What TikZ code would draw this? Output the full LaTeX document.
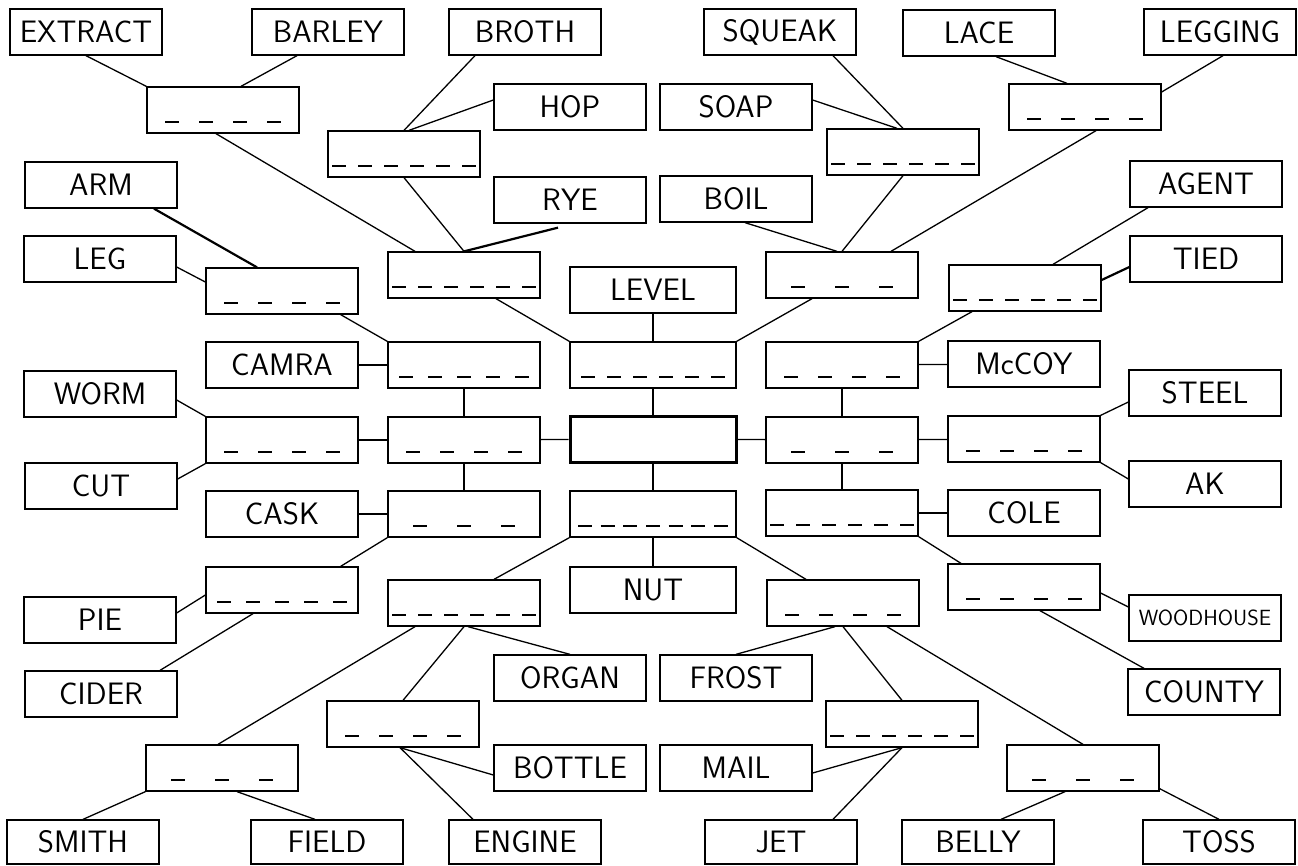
\documentclass[tikz,border=0pt]{standalone}
\usepackage{fontspec}
\usetikzlibrary{calc}

\begin{document}
\begin{tikzpicture}[
  x=1pt, y=-1pt,
  line width=1.3pt,
  font=\sffamily\fontsize{31}{33}\selectfont,
  box/.style={draw,minimum width=152pt,minimum height=46pt,inner sep=2pt},
  clue/.style={box},
  wide/.style={minimum width=166pt},
  blank/.style={box,path picture={
    \pgfmathsetmacro\dspan{min(150,60+14*#1)}
    \pgfmathsetmacro\dpitch{(\dspan-14)/(#1-1)}
    \foreach \k [evaluate=\k as \dx using {-\dspan/2+(\k-1)*\dpitch}] in {1,...,#1}
      \draw[line width=1.6pt] ([xshift=\dx pt,yshift=-12pt]path picture bounding box.center) -- ++(14,0);
  }},
  hub/.style={box,wide,line width=3pt},
  heavy/.style={line width=2.2pt}
]
  \useasboundingbox (0,0) rectangle (1298,865);

  % Clue words, top to bottom
  \node[clue] (extract) at (86,32) {EXTRACT};
  \node[clue] (barley) at (328,32) {BARLEY};
  \node[clue] (broth) at (525,32) {BROTH};
  \node[clue] (squeak) at (780,32) {SQUEAK};
  \node[clue] (lace) at (979,33) {LACE};
  \node[clue] (legging) at (1220,32) {LEGGING};
  \node[clue] (hop) at (570,107) {HOP};
  \node[clue] (soap) at (736,107) {SOAP};
  \node[clue] (rye) at (570,200) {RYE};
  \node[clue] (boil) at (736,199) {BOIL};
  \node[clue] (agent) at (1206,184) {AGENT};
  \node[clue] (tied) at (1206,259) {TIED};
  \node[clue] (arm) at (101,185) {ARM};
  \node[clue] (leg) at (100,259) {LEG};
  \node[clue,wide] (level) at (653,290) {LEVEL};
  \node[clue] (camra) at (282,365) {CAMRA};
  \node[clue] (mccoy) at (1024,364) {McCOY};
  \node[clue] (worm) at (100,394) {WORM};
  \node[clue] (steel) at (1205,393) {STEEL};
  \node[clue] (cut) at (101,486) {CUT};
  \node[clue] (ak) at (1205,484) {AK};
  \node[clue] (cask) at (282,514) {CASK};
  \node[clue] (cole) at (1024,513) {COLE};
  \node[clue,wide] (nut) at (653,590) {NUT};
  \node[clue] (pie) at (100,620) {PIE};
  \node[clue,font=\sffamily\fontsize{22}{24}\selectfont] (woodhouse) at (1205,618) {WOODHOUSE};
  \node[clue] (organ) at (570,678) {ORGAN};
  \node[clue] (frost) at (736,678) {FROST};
  \node[clue] (cider) at (101,694) {CIDER};
  \node[clue] (county) at (1204,692) {COUNTY};
  \node[clue] (bottle) at (570,768) {BOTTLE};
  \node[clue] (mail) at (736,768) {MAIL};
  \node[clue,minimum height=44pt] (smith) at (83,842) {SMITH};
  \node[clue,minimum height=44pt] (field) at (327,842) {FIELD};
  \node[clue,minimum height=44pt] (engine) at (525,842) {ENGINE};
  \node[clue,minimum height=44pt] (jet) at (781,842) {JET};
  \node[clue,minimum height=44pt] (belly) at (978,842) {BELLY};
  \node[clue,minimum height=44pt] (toss) at (1219,842) {TOSS};

  % Answer boxes with their letter blanks
  \node[blank=4] (aExBar) at (223,110) {};
  \node[blank=6] (aHopBroth) at (404,154) {};
  \node[blank=6] (aSqSoap) at (903,152) {};
  \node[blank=4] (aLaceLeg) at (1085,107) {};
  \node[blank=6] (aRye) at (464,275) {};
  \node[blank=3] (aBoil) at (842,275) {};
  \node[blank=6] (aAgent) at (1025,288) {};
  \node[blank=4] (aArmLeg) at (282,291) {};
  \node[blank=5] (aCamra) at (464,365) {};
  \node[blank=6,wide] (aLevel) at (653,365) {};
  \node[blank=4] (aMccoy) at (842,365) {};
  \node[blank=4] (aWorm) at (282,440) {};
  \node[blank=4] (aWest) at (464,440) {};
  \node[hub] (hub) at (653,439) {};
  \node[blank=3] (aEast) at (842,440) {};
  \node[blank=4] (aSteel) at (1024,439) {};
  \node[blank=3] (aCask) at (464,514) {};
  \node[blank=7,wide] (aNut) at (653,514) {};
  \node[blank=6] (aCole) at (842,513) {};
  \node[blank=5] (aPie) at (282,590) {};
  \node[blank=4] (aWood) at (1024,587) {};
  \node[blank=6] (aOrgan) at (464,603) {};
  \node[blank=4] (aFrost) at (843,603) {};
  \node[blank=4] (aBottle) at (403,724) {};
  \node[blank=3] (aSmith) at (222,768) {};
  \node[blank=6] (aMail) at (902,724) {};
  \node[blank=3] (aBelly) at (1083,768) {};

  % Upper left links
  \draw (extract.south) -- (aExBar.north west);
  \draw ([xshift=-31]barley.south) -- ([xshift=18]aExBar.north);
  \draw ([xshift=-7]aExBar.south) -- ([xshift=-49]aRye.north);
  \draw ([xshift=-50]broth.south) -- (aHopBroth.north);
  \draw ([yshift=7]hop.west) -- ([xshift=5]aHopBroth.north);
  \draw (aHopBroth.south) -- (aRye.north);
  \draw[heavy] ([xshift=-12,yshift=-4]rye.south) -- (aRye.north);
  \draw[heavy] ([xshift=53]arm.south) -- ([xshift=-25]aArmLeg.north);
  \draw ([yshift=-8]leg.east) -- ([yshift=9]aArmLeg.west);
  \draw ([xshift=-18]aArmLeg.south east) -- (aCamra.north west);
  \draw ([xshift=32]aRye.south) -- (aLevel.north west);

  % Upper right links
  \draw ([xshift=53]squeak.south) -- (aSqSoap.north);
  \draw ([yshift=7]soap.east) -- ([xshift=-6]aSqSoap.north);
  \draw (aSqSoap.south) -- (aBoil.north);
  \draw ([xshift=9]boil.south) -- ([xshift=-5]aBoil.north);
  \draw ([xshift=17]lace.south) -- ([xshift=-18]aLaceLeg.north);
  \draw ([xshift=3]legging.south) -- ([yshift=15]aLaceLeg.east);
  \draw ([xshift=11]aLaceLeg.south) -- ([xshift=49]aBoil.north);
  \draw ([xshift=-30]aBoil.south) -- (aLevel.north east);
  \draw ([xshift=-58]agent.south) -- ([xshift=28]aAgent.north);
  \draw[heavy] ([yshift=-8]tied.west) -- ([yshift=8]aAgent.east);
  \draw ([xshift=-53]aAgent.south) -- (aMccoy.north east);

  % Middle band
  \draw (camra) -- (aCamra);
  \draw (level) -- (aLevel);
  \draw (aCamra) -- (aWest);
  \draw (aLevel) -- (hub);
  \draw (mccoy) -- (aMccoy);
  \draw (aMccoy) -- (aEast);
  \draw ([yshift=-6]worm.east) -- (aWorm.north west);
  \draw ([yshift=7]cut.east) -- (aWorm.south west);
  \draw (aWorm) -- (aWest);
  \draw (aWest) -- (hub);
  \draw (hub) -- (aEast);
  \draw (aEast) -- (aSteel);
  \draw ([yshift=-9]steel.west) -- (aSteel.north east);
  \draw ([yshift=5]ak.west) -- (aSteel.south east);
  \draw (aWest) -- (aCask);
  \draw (hub) -- (aNut);
  \draw (aEast) -- (aCole);
  \draw (cask) -- (aCask);
  \draw (cole) -- (aCole);
  \draw (aNut) -- (nut);

  % Lower left links
  \draw (aCask.south west) -- ([xshift=-18]aPie.north east);
  \draw ([yshift=7]pie.east) -- ([yshift=-5]aPie.west);
  \draw ([xshift=59]cider.north) -- ([xshift=-29]aPie.south);
  \draw (aNut.south west) -- ([xshift=30]aOrgan.north);
  \draw ([xshift=-49]aOrgan.south) -- ([xshift=-4]aSmith.north);
  \draw (aOrgan.south) -- (aBottle.north);
  \draw ([xshift=4]aOrgan.south) -- (organ.north);
  \draw (aSmith.south west) -- (smith.north);
  \draw ([xshift=15]aSmith.south) -- ([xshift=-12]field.north);
  \draw ([xshift=-3]aBottle.south) -- ([yshift=-7]bottle.west);
  \draw ([xshift=-3]aBottle.south) -- ([xshift=-52]engine.north);

  % Lower right links
  \draw (aCole.south east) -- ([xshift=-63]aWood.north);
  \draw ([yshift=11]woodhouse.west) -- ([yshift=-6]aWood.east);
  \draw ([xshift=16]aWood.south) -- ([xshift=-60]county.north);
  \draw (aNut.south east) -- ([xshift=-37]aFrost.north);
  \draw ([xshift=-8]aFrost.south) -- (frost.north);
  \draw (aFrost.south) -- (aMail.north);
  \draw ([xshift=44]aFrost.south) -- (aBelly.north);
  \draw (aMail.south) -- ([yshift=-5]mail.east);
  \draw (aMail.south) -- ([xshift=52]jet.north);
  \draw ([xshift=-18]aBelly.south) -- ([xshift=23]belly.north);
  \draw ([yshift=3]aBelly.south east) -- (toss.north);
\end{tikzpicture}
\end{document}
